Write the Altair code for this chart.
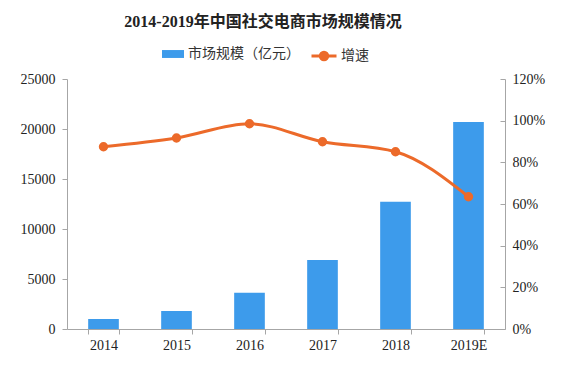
import altair as alt
import pandas as pd

years = ["2014", "2015", "2016", "2017", "2018", "2019E"]
market = [1000, 1800, 3630, 6900, 12730, 20700]
growth = [0.875, 0.917, 0.985, 0.899, 0.851, 0.635]

s1 = "市场规模（亿元）"
s2 = "增速"

df = pd.DataFrame({"year": years, "market": market, "growth": growth,
                   "s1": [s1] * 6, "s2": [s2] * 6})

BLUE = "#3D9BEB"
ORANGE = "#EC6A2A"
AX = "#A6A6A6"
FONT = "Liberation Serif, Noto Sans CJK SC"
W = 438

xenc = alt.X("year:N", sort=years, title=None,
             scale=alt.Scale(paddingInner=0.58, paddingOuter=0.29),
             axis=alt.Axis(labelAngle=0, tickBand="extent", tickSize=5,
                           labelPadding=4, domainColor=AX, tickColor=AX))

base = alt.Chart(df)

bars = base.mark_bar().encode(
    x=xenc,
    y=alt.Y("market:Q", title=None,
            scale=alt.Scale(domain=[0, 25000], nice=False),
            axis=alt.Axis(values=[0, 5000, 10000, 15000, 20000, 25000], format="d",
                          grid=False, tickSize=5, labelPadding=7,
                          domainColor=AX, tickColor=AX)),
    color=alt.Color("s1:N", title=None,
                    scale=alt.Scale(domain=[s1], range=[BLUE]),
                    legend=alt.Legend(orient="none", legendX=95, legendY=-36,
                                      symbolType="M-1,-0.36H1V0.36H-1Z",
                                      symbolSize=484, symbolStrokeWidth=0,
                                      labelFont="Noto Sans CJK SC", labelFontSize=14,
                                      labelColor="#333333", labelOffset=4, padding=0)),
)

line = base.mark_line(interpolate="monotone", strokeWidth=3,
                      point=alt.OverlayMarkDef(filled=True, size=55, color=ORANGE)).encode(
    x=xenc,
    y=alt.Y("growth:Q", title=None,
            scale=alt.Scale(domain=[0, 1.2], nice=False),
            axis=alt.Axis(orient="right", format=".0%",
                          values=[0, 0.2, 0.4, 0.6, 0.8, 1.0, 1.2],
                          grid=False, ticks=False, labelPadding=7,
                          domainColor=AX)),
    stroke=alt.Stroke("s2:N", title=None,
                      scale=alt.Scale(domain=[s2], range=[ORANGE]),
                      legend=alt.Legend(orient="none", legendX=243, legendY=-37,
                                        symbolType="M-1,0H1M0.3,0A0.3,0.3,0,1,1,-0.3,0A0.3,0.3,0,1,1,0.3,0Z",
                                        symbolSize=625, symbolStrokeWidth=3,
                                        symbolFillColor=ORANGE,
                                        labelFont="Noto Sans CJK SC", labelFontSize=14,
                                        labelColor="#333333", labelOffset=3, padding=0)),
)

rticks = base.mark_point(opacity=0).encode(
    x=xenc,
    y=alt.Y("growth:Q", title=None,
            scale=alt.Scale(domain=[0, 1.2], nice=False),
            axis=alt.Axis(orient="left", offset=-W, labels=False, domain=False,
                          values=[0, 0.2, 0.4, 0.6, 0.8, 1.0, 1.2],
                          grid=False, tickSize=5, tickColor=AX)),
)

chart = alt.layer(bars, line, rticks).resolve_scale(
    y="independent", color="independent", stroke="independent"
).properties(
    width=W, height=250,
    autosize=alt.AutoSizeParams(type="none"),
    padding={"left": 59, "top": 71, "right": 55, "bottom": 40},
    title=alt.TitleParams("2014-2019年中国社交电商市场规模情况", anchor="middle",
                          font=FONT, fontSize=16, fontWeight="bold",
                          color="#222222", dx=-23, offset=12),
).configure_view(stroke=None).configure_axis(
    labelFont=FONT, labelFontSize=14, labelColor="#222222"
)

chart.save("out.html", embed_options={"renderer": "svg", "actions": False})
